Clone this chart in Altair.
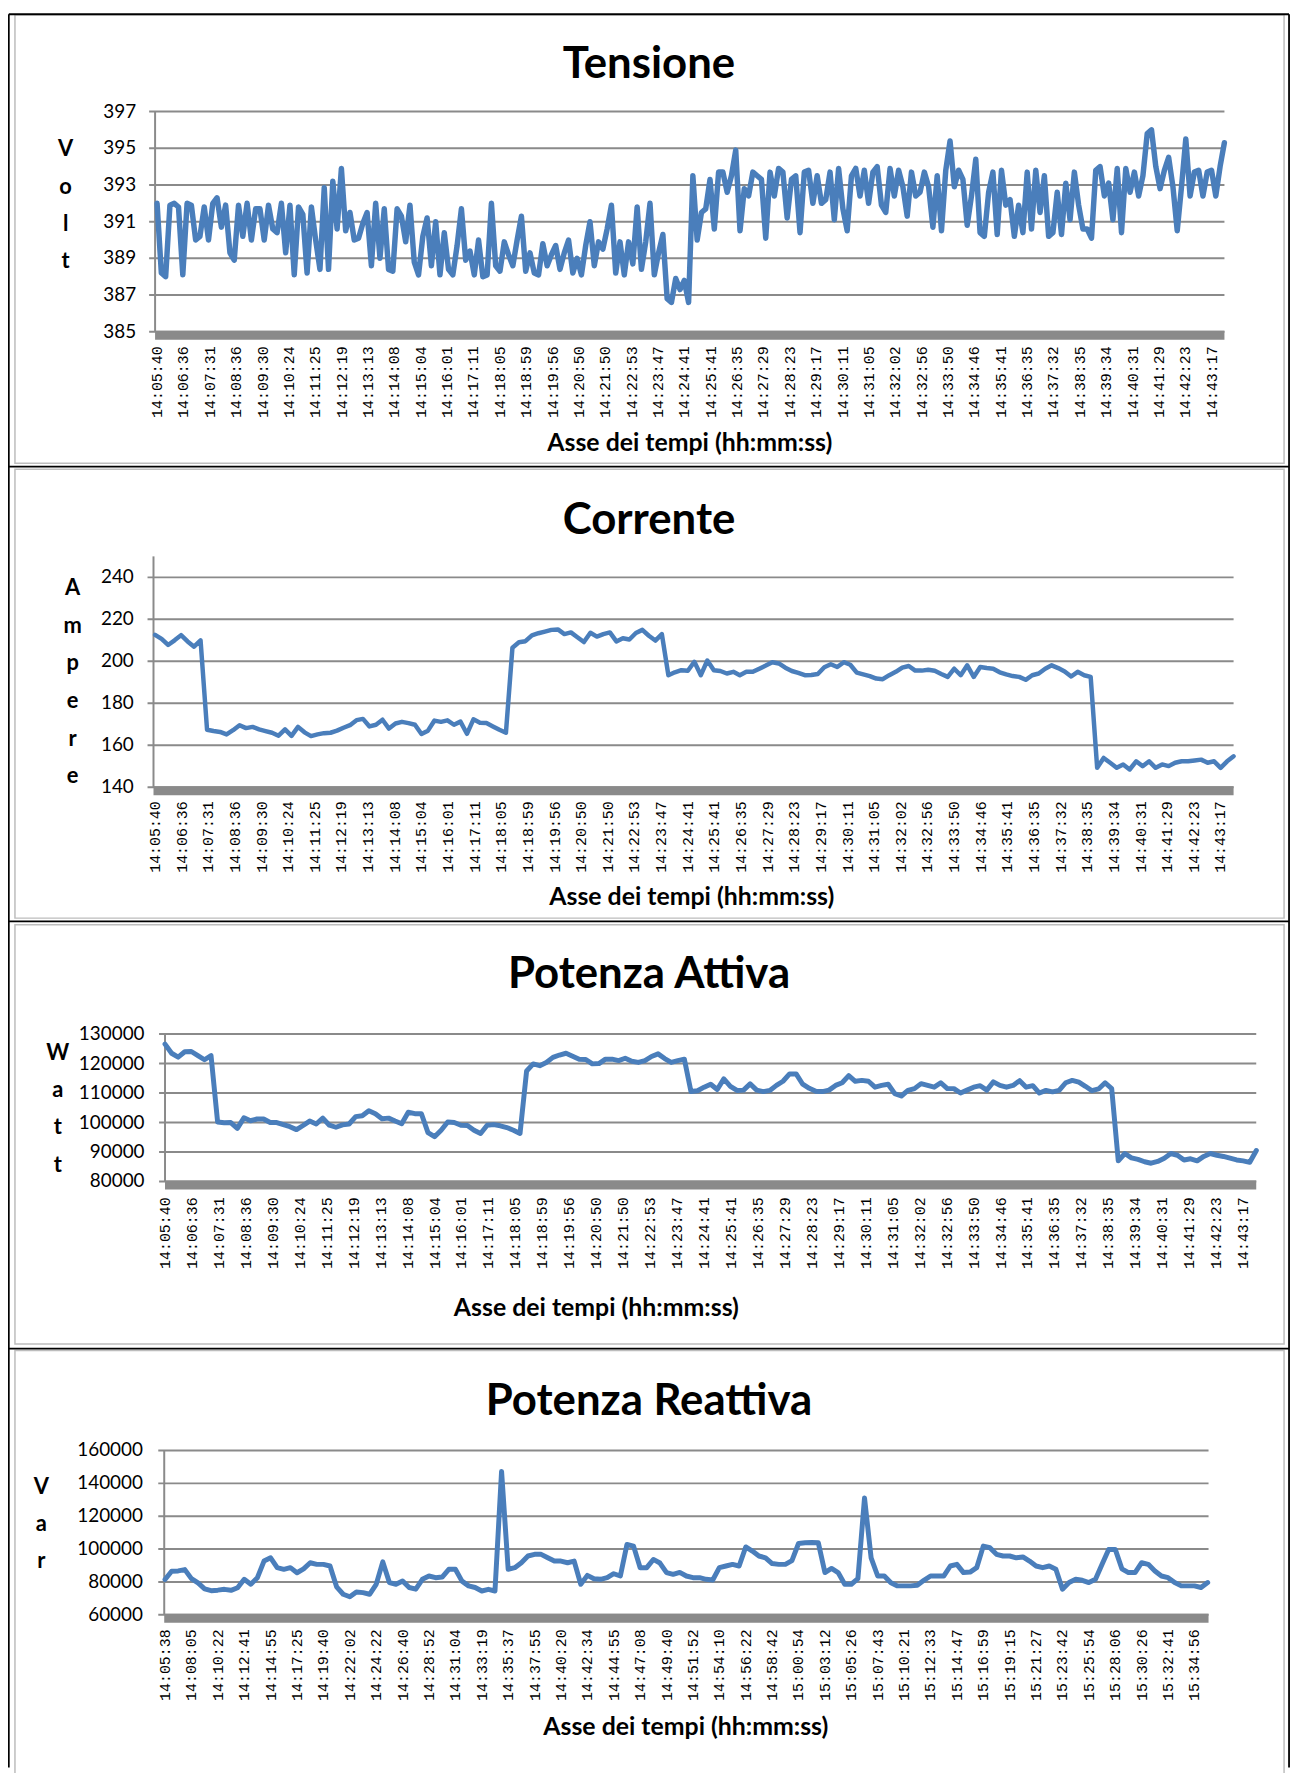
import altair as alt
import pandas as pd

# ---------------- data ----------------
tempi_a = ["14:05:40", "14:06:36", "14:07:31", "14:08:36", "14:09:30", "14:10:24", "14:11:25",
           "14:12:19", "14:13:13", "14:14:08", "14:15:04", "14:16:01", "14:17:11", "14:18:05",
           "14:18:59", "14:19:56", "14:20:50", "14:21:50", "14:22:53", "14:23:47", "14:24:41",
           "14:25:41", "14:26:35", "14:27:29", "14:28:23", "14:29:17", "14:30:11", "14:31:05",
           "14:32:02", "14:32:56", "14:33:50", "14:34:46", "14:35:41", "14:36:35", "14:37:32",
           "14:38:35", "14:39:34", "14:40:31", "14:41:29", "14:42:23", "14:43:17"]

tempi_r = ["14:05:38", "14:08:05", "14:10:22", "14:12:41", "14:14:55", "14:17:25", "14:19:40",
           "14:22:02", "14:24:22", "14:26:40", "14:28:52", "14:31:04", "14:33:19", "14:35:37",
           "14:37:55", "14:40:20", "14:42:34", "14:44:55", "14:47:08", "14:49:40", "14:51:52",
           "14:54:10", "14:56:22", "14:58:42", "15:00:54", "15:03:12", "15:05:26", "15:07:43",
           "15:10:21", "15:12:33", "15:14:47", "15:16:59", "15:19:15", "15:21:27", "15:23:42",
           "15:25:54", "15:28:06", "15:30:26", "15:32:41", "15:34:56"]

tensione_ticks = [385, 387, 389, 391, 393, 395, 397]
tensione = [
    392.0, 388.2, 388.0, 391.9, 392.0, 391.8, 388.1, 392.0, 391.9, 390.0,
    390.2, 391.8, 390.0, 392.0, 392.3, 390.7, 391.9, 389.3, 388.9, 391.9,
    390.2, 392.0, 390.0, 391.7, 391.7, 390.0, 391.9, 390.6, 390.4, 392.0,
    389.3, 391.9, 388.1, 391.8, 391.4, 388.2, 391.8, 390.0, 388.4, 392.85,
    388.4, 393.2, 390.6, 393.9, 390.5, 391.5, 390.0, 390.1, 390.9, 391.5,
    388.6, 392.0, 389.0, 391.7, 388.4, 388.3, 391.7, 391.3, 389.9, 391.9,
    388.8, 388.1, 390.2, 391.2, 388.6, 391.0, 388.1, 390.4, 388.4, 388.1,
    389.7, 391.7, 388.9, 389.4, 388.1, 390.0, 388.0, 388.1, 392.0, 388.6,
    388.3, 389.9, 389.2, 388.6, 390.0,
    391.3, 388.3, 389.3, 388.2, 388.1, 389.8, 388.6, 389.2, 389.7, 388.4,
    389.3, 390.0, 388.2, 389.0, 388.1, 389.7, 391.0, 388.6, 389.9, 389.5,
    390.6, 391.9, 388.2, 389.9, 388.1, 389.9, 388.7, 391.8, 388.4, 389.9,
    392.0, 388.1, 389.3, 390.3, 386.8, 386.6, 387.9, 387.3, 387.8, 386.6,
    393.5, 390.0, 391.5, 391.7, 393.3, 390.6, 393.7, 393.7, 392.6, 393.5,
    394.9, 390.5, 392.8, 392.4, 393.7, 393.5, 393.3, 390.1, 393.7, 392.4,
    393.9, 393.7, 391.2, 393.3, 393.5, 390.4, 393.7, 393.8, 392.0, 393.5,
    392.0, 392.2, 393.7, 391.1, 393.9, 391.7, 390.5, 393.5, 393.9, 392.4,
    393.8, 392.0, 393.7, 394.0,
    391.9, 391.5, 393.9, 392.4, 393.8, 392.9, 391.3, 393.7, 392.4, 392.6,
    393.7, 392.9, 390.7, 393.5, 390.5, 393.8, 395.4, 392.9, 393.8, 393.3,
    390.8, 392.4, 394.4, 390.4, 390.2, 392.6, 393.7, 390.3, 393.8, 391.9,
    392.2, 390.2, 391.9, 390.4, 393.7, 390.6, 393.8, 391.5, 393.5, 390.2,
    390.4, 392.6, 390.3, 393.1, 391.1, 393.7, 391.9, 390.6, 390.6, 390.1,
    393.8, 394.0, 392.4, 393.1, 391.1, 393.9, 390.4, 393.9, 392.6, 393.7,
    392.4, 393.5, 395.8, 396.0, 394.0, 392.8, 393.8, 394.5, 392.9, 390.5,
    392.9, 395.5, 392.4, 393.7, 393.8, 392.4, 393.7, 393.8, 392.4, 394.0,
    395.3]

corrente_ticks = [140, 160, 180, 200, 220, 240]
corrente = [
    212.6, 210.7, 207.8, 210.0, 212.5, 209.5, 207.0, 210.0, 167.4, 166.8,
    166.4, 165.2, 167.2, 169.6, 168.2, 168.8, 167.6, 166.8, 166.0, 164.6,
    167.6, 164.5, 168.8, 166.2, 164.4, 165.2, 165.8, 166.0, 167.0, 168.4,
    169.6, 172.0, 172.6, 169.0, 169.8, 172.2, 168.0, 170.4, 171.2, 170.6,
    169.8, 165.4, 167.0, 171.8, 171.2, 171.9, 169.8, 171.3, 165.5, 172.4,
    170.8, 170.6, 169.0, 167.4, 166.0, 206.5, 209.1, 209.6, 212.4, 213.4,
    214.2, 215.0, 215.2, 213.0, 213.8, 211.5, 209.2, 213.6, 211.8, 213.0,
    213.8, 209.5, 211.0, 210.4, 213.5, 215.0, 212.2, 209.9, 213.0, 193.4,
    194.8, 195.8, 195.5, 199.8, 193.4, 200.4, 195.8, 195.4, 194.2, 195.0,
    193.4, 195.0, 195.0, 196.5, 198.0, 199.6, 199.0, 197.0, 195.4, 194.5,
    193.4, 193.5, 194.0, 197.2, 198.6, 197.3, 199.6, 198.4, 194.6, 193.8,
    193.0, 191.8, 191.5, 193.4, 195.0, 197.0, 197.8, 195.6, 195.6, 196.0,
    195.5, 194.0, 192.6, 196.5, 193.4, 198.1, 192.6, 197.3, 196.8, 196.5,
    194.8, 193.8, 193.0, 192.6, 191.2, 193.4, 194.2, 196.5, 198.1, 196.8,
    195.2, 192.8, 195.0, 193.4, 192.6, 149.3, 154.0, 151.7, 149.3, 150.9,
    148.5, 152.4, 150.1, 152.4, 149.3, 150.9, 150.1, 151.7, 152.4, 152.4,
    152.8, 153.2, 151.7, 152.4, 149.3, 152.4, 154.8]

attiva_ticks = [80000, 90000, 100000, 110000, 120000, 130000]
attiva = [
    126600, 123500, 122200, 124000, 124100, 122700, 121300, 122700, 100200, 99900,
    100000, 98000, 101600, 100600, 101200, 101200, 100000, 100000, 99300, 98600,
    97600, 99000, 100500, 99500, 101500, 99100, 98400, 99200, 99500, 102000,
    102300, 104000, 103000, 101300, 101500, 100500, 99600, 103500, 103000, 103000,
    96600, 95200, 97400, 100200, 100000, 99100, 99000, 97400, 96300, 99100,
    99300, 98900, 98300, 97400, 96300, 117500, 119900, 119300, 120400, 122100,
    122900, 123500, 122500, 121500, 121400, 119900, 120000, 121500, 121500, 121000,
    121800, 120800, 120400, 121000, 122400, 123300, 121700, 120400, 121000, 121500,
    110500, 110800, 112000, 113000, 111200, 114800, 112300, 110900, 111000, 113100,
    111000, 110500, 110900, 112600, 114000, 116500, 116500, 113000, 111600, 110600,
    110500, 111000, 112600, 113500, 115900, 114000, 114300, 114000, 112000, 112600,
    113000, 109800, 109000, 110900, 111500, 113200, 112600, 112000, 113500, 111500,
    111500, 110000, 111000, 112000, 112500, 111000, 113800, 112600, 112000, 112600,
    114200, 112000, 112500, 110000, 110900, 110400, 110900, 113500, 114300, 113700,
    112300, 110800, 111400, 113500, 111500, 87000, 89500, 88000, 87500, 86700,
    86200, 86800, 87900, 89500, 88900, 87300, 87700, 87000, 88500, 89500,
    88900, 88500, 87900, 87300, 87000, 86500, 90500]

reattiva_ticks = [60000, 80000, 100000, 120000, 140000, 160000]
reattiva = [
    81500, 86500, 86700, 87500, 82000, 79400, 75800, 74700, 75000, 75500,
    74900, 76500, 81600, 78600, 82600, 92700, 94700, 88700, 87700, 88700,
    85600, 88000, 91700, 90700, 90700, 89700, 77000, 72500, 71000, 73900,
    73500, 72500, 78500, 92200, 79600, 78600, 80600, 76600, 75600, 81600,
    83600, 82600, 83000, 87700, 87700, 80500, 77600, 76600, 74500, 75500,
    74500, 147300, 87700, 88700, 91700, 95800, 96800, 96800, 94700, 92700,
    92700, 91700, 92700, 78600, 84000, 82000, 81600, 82600, 85000, 83600,
    102800, 101800, 88700, 88700, 93700, 91500, 85700, 84600, 85800,
    83600, 82600, 82600, 81600, 81200, 88700, 89700, 90700, 89700, 101300, 98800,
    95800, 94700, 91200, 90700, 90700, 93000, 103400, 103800, 104000, 103800,
    85700, 88200, 85700, 78600, 78600, 82000, 131100, 94700, 83600, 83600,
    79500, 77600, 77600, 77600, 78000, 81000, 83600, 83600, 83600, 89700,
    90700, 85700, 86000, 88700, 101800, 100800, 96800, 95800, 95800, 94700,
    95200, 92700, 89700, 88700, 89700, 87700, 75600, 79600, 81600, 81000,
    79600, 81600, 90700, 99800, 99800, 88000, 85700, 85700, 91700, 90700,
    86700, 83600, 82600, 79600, 77600, 77600, 77600, 76600, 79600]

# ---------------- styling / layout ----------------
OFF = 8
BLUE = "#4A7EBB"
GRID = "#8A8A8A"
SANS = "Lato"
MONO = "Liberation Mono"


def P(v):
    return v - OFF


panels = [
    dict(title="Tensione", values=tensione, ticks=tensione_ticks, labels=tempi_a,
         ydom=[385, 397], ytop=106.7, ybot=328.3, xa=156, xb=1232, k0=158, step=4.313,
         lab_dx=26.53, ylab_x=137, lab_y=343, ytitle="V\no\nl\nt", ytx=66, yty=151.5,
         ylh=37.7, xtitle="Asse dei tempi  (hh:mm:ss)", xtx=694, xty=448, tty=73,
         lw=5.5, box=(9.3, 460.7)),
    dict(title="Corrente", values=corrente, ticks=corrente_ticks, labels=tempi_a,
         ydom=[140, 250], ytop=554.3, ybot=786.7, xa=154.4, xb=1241.2, k0=156, step=6.5375,
         lab_dx=26.8, ylab_x=134.6, lab_y=800.7, ytitle="A\nm\np\ne\nr\ne", ytx=73, yty=593.5,
         ylh=37.8, xtitle="Asse dei tempi (hh:mm:ss)", xtx=696, xty=905, tty=531.7,
         lw=4.5, box=(466.7, 918.3)),
    dict(title="Potenza Attiva", values=attiva, ticks=attiva_ticks, labels=tempi_a,
         ydom=[80000, 130000], ytop=1035, ybot=1183.3, xa=166, xb=1264, k0=166, step=6.615,
         lab_dx=27.12, ylab_x=145.4, lab_y=1199.3, ytitle="W\na\nt\nt", ytx=58, yty=1060.8,
         ylh=37.5, xtitle="Asse dei tempi (hh:mm:ss)", xtx=600, xty=1318.3, tty=988.3,
         lw=5.0, box=(925, 1346.7)),
    dict(title="Potenza Reattiva", values=reattiva, ticks=reattiva_ticks, labels=tempi_r,
         ydom=[60000, 160000], ytop=1454, ybot=1619.3, xa=165.2, xb=1216, k0=166, step=6.64,
         lab_dx=26.56, ylab_x=143.8, lab_y=1634, ytitle="V\na\nr", ytx=41.5, yty=1497.5,
         ylh=37.5, xtitle="Asse dei tempi (hh:mm:ss)", xtx=690, xty=1740.7, tty=1418.3,
         lw=5.0, box=(1353.3, 1800)),
]

layers = []

# panel frames (grey) and outer black table lines
for p in panels:
    layers.append(alt.Chart().mark_rect(fillOpacity=0, stroke="#BDBDBD", strokeWidth=1.5).encode(
        x=alt.value(P(15)), x2=alt.value(P(1292)),
        y=alt.value(P(p["box"][0])), y2=alt.value(P(p["box"][1]))))

for yy in [8.8, 464, 921.5, 1351.5]:
    layers.append(alt.Chart().mark_rule(color="#000000", strokeWidth=1.8).encode(
        x=alt.value(P(8.8)), x2=alt.value(P(1297)), y=alt.value(P(yy))))
for xx in [8.8, 1297]:
    layers.append(alt.Chart().mark_rule(color="#000000", strokeWidth=1.8).encode(
        x=alt.value(P(xx)), y=alt.value(P(8.8)), y2=alt.value(P(1773))))

for p in panels:
    d0 = (p["xa"] - p["k0"]) / p["step"]
    d1 = (p["xb"] - p["k0"]) / p["step"]
    xs = alt.Scale(domain=[d0, d1], range=[P(p["xa"]), P(p["xb"])], nice=False, zero=False)
    ys = alt.Scale(domain=p["ydom"], range=[P(p["ybot"]), P(p["ytop"])], nice=False, zero=False)

    tick_df = pd.DataFrame({"v": p["ticks"]})
    line_df = pd.DataFrame({"k": list(range(len(p["values"]))), "v": p["values"]})
    lab_df = pd.DataFrame({"lab": p["labels"],
                           "pos": [i * p["lab_dx"] / p["step"] for i in range(len(p["labels"]))]})

    # gridlines (with outward tick stubs)
    layers.append(alt.Chart(tick_df).mark_rule(color=GRID, strokeWidth=2).encode(
        y=alt.Y("v:Q", scale=ys, axis=None),
        x=alt.value(P(p["xa"] - 6)), x2=alt.value(P(p["xb"]))))
    # y axis line
    layers.append(alt.Chart().mark_rule(color=GRID, strokeWidth=2).encode(
        x=alt.value(P(p["xa"])), y=alt.value(P(p["ytop"])), y2=alt.value(P(p["ybot"]))))
    # dense category ticks band
    layers.append(alt.Chart().mark_rect(color="#8A8A8A").encode(
        x=alt.value(P(p["xa"])), x2=alt.value(P(p["xb"])),
        y=alt.value(P(p["ybot"] - 1)), y2=alt.value(P(p["ybot"] + 8))))
    # y tick labels
    layers.append(alt.Chart(tick_df).mark_text(align="right", baseline="middle", font=SANS,
                                               fontSize=19, color="#000000").encode(
        y=alt.Y("v:Q", scale=ys, axis=None),
        x=alt.value(P(p["ylab_x"])),
        text=alt.Text("v:Q", format="d")))
    # data line
    layers.append(alt.Chart(line_df).mark_line(color=BLUE, strokeJoin="round",
                                               strokeCap="round").encode(
        x=alt.X("k:Q", scale=xs, axis=None),
        y=alt.Y("v:Q", scale=ys, axis=None),
        strokeWidth=alt.value(p["lw"])))
    # x tick labels (rotated)
    layers.append(alt.Chart(lab_df).mark_text(angle=270, align="right", baseline="middle",
                                              font=MONO, fontSize=15, color="#000000").encode(
        x=alt.X("pos:Q", scale=xs, axis=None),
        y=alt.value(P(p["lab_y"])),
        text="lab:N"))
    # chart title
    layers.append(alt.Chart().mark_text(font=SANS, fontSize=44, fontWeight="bold",
                                        align="center", baseline="alphabetic",
                                        color="#000000").encode(
        x=alt.value(P(653)), y=alt.value(P(p["tty"])), text=alt.value(p["title"])))
    # stacked y title
    layers.append(alt.Chart().mark_text(font=SANS, fontSize=22, fontWeight="bold",
                                        align="center", baseline="alphabetic",
                                        lineBreak="\n", lineHeight=p["ylh"],
                                        color="#000000").encode(
        x=alt.value(P(p["ytx"])), y=alt.value(P(p["yty"])), text=alt.value(p["ytitle"])))
    # x title
    layers.append(alt.Chart().mark_text(font=SANS, fontSize=25, fontWeight="bold",
                                        align="center", baseline="alphabetic",
                                        color="#000000").encode(
        x=alt.value(P(p["xtx"])), y=alt.value(P(p["xty"])), text=alt.value(p["xtitle"])))

chart = alt.layer(*layers).resolve_scale(x="independent", y="independent").properties(
    width=1295, height=1765, padding=0,
    autosize=alt.AutoSizeParams(type="none"),
    background="#FFFFFF",
).configure_view(strokeWidth=0)

chart.save("out.html", embed_options={"renderer": "svg", "actions": False})
